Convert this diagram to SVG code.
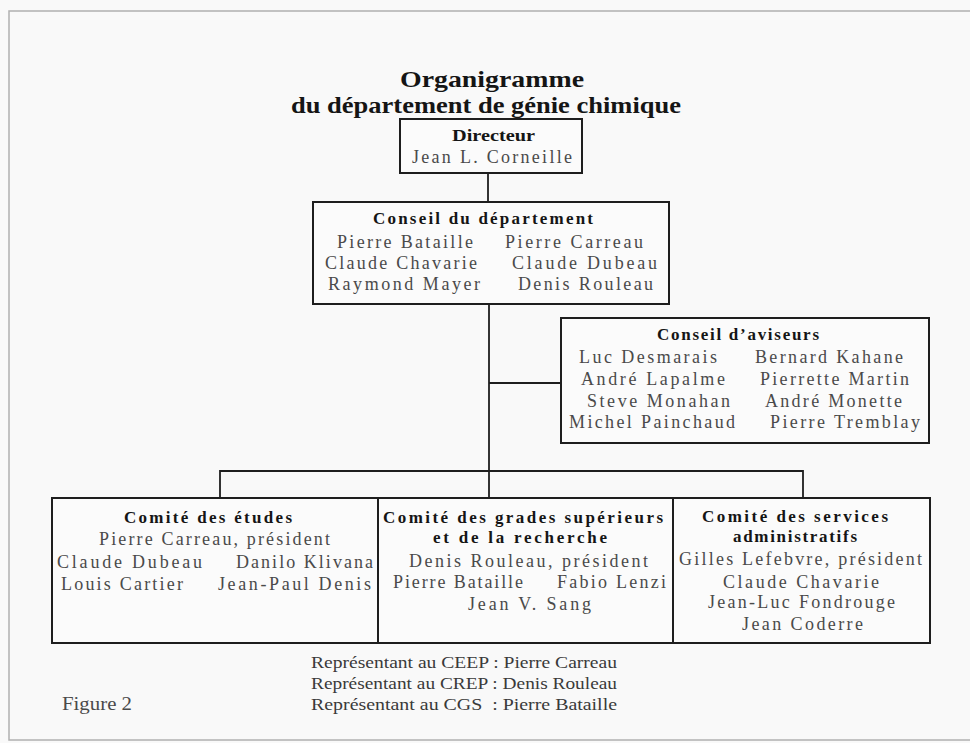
<svg xmlns="http://www.w3.org/2000/svg" width="970" height="743" viewBox="0 0 970 743">
<style>
.bg{fill:#f9f9f9}
.frame{fill:none;stroke:#b0b0b0;stroke-width:1.5}
.box{fill:#fbfbfb;stroke:#1e1e1e;stroke-width:2}
.conn{fill:none;stroke:#1e1e1e;stroke-width:1.8}
.t{font-family:"Liberation Serif","Times New Roman",serif;font-weight:bold;font-size:17px;fill:#151515}
.ttl{font-family:"Liberation Serif","Times New Roman",serif;font-weight:bold;font-size:24px;fill:#151515;text-anchor:middle}
.n{font-family:"Liberation Serif","Times New Roman",serif;font-size:18px;fill:#4a4a4a}
.f{font-family:"Liberation Serif","Times New Roman",serif;font-size:17px;fill:#3a3a3a}
</style>
<rect class="bg" x="0" y="0" width="970" height="743"/>
<rect class="frame" x="9" y="11" width="990" height="729"/>
<g id="title">
<text class="ttl" x="492" y="87" textLength="184" lengthAdjust="spacingAndGlyphs">Organigramme</text>
<text class="ttl" x="486" y="113" textLength="390" lengthAdjust="spacingAndGlyphs">du département de génie chimique</text>
</g>
<g id="connectors">
<line class="conn" x1="488" y1="173" x2="488" y2="202"/>
<line class="conn" x1="489" y1="304" x2="489" y2="498"/>
<line class="conn" x1="489" y1="383" x2="561" y2="383"/>
<polyline class="conn" points="220,499 220,471 803,471 803,498"/>
</g>
<g id="directeur">
<rect class="box" x="400" y="119" width="182" height="54"/>
<text class="t" x="452" y="141" textLength="83" lengthAdjust="spacingAndGlyphs">Directeur</text>
<text class="n" x="412" y="163" textLength="160" lengthAdjust="spacing">Jean L. Corneille</text>
</g>
<g id="conseil-departement">
<rect class="box" x="313" y="202" width="356" height="102"/>
<text class="t" x="373" y="224" textLength="220" lengthAdjust="spacing">Conseil du département</text>
<text class="n" x="337" y="248" textLength="136" lengthAdjust="spacing">Pierre Bataille</text>
<text class="n" x="505" y="248" textLength="138" lengthAdjust="spacing">Pierre Carreau</text>
<text class="n" x="325" y="269" textLength="152" lengthAdjust="spacing">Claude Chavarie</text>
<text class="n" x="512" y="269" textLength="145" lengthAdjust="spacing">Claude Dubeau</text>
<text class="n" x="328" y="290" textLength="152" lengthAdjust="spacing">Raymond Mayer</text>
<text class="n" x="518" y="290" textLength="135" lengthAdjust="spacing">Denis Rouleau</text>
</g>
<g id="conseil-aviseurs">
<rect class="box" x="561" y="318" width="368" height="125"/>
<text class="t" x="657" y="340" textLength="162" lengthAdjust="spacing">Conseil d’aviseurs</text>
<text class="n" x="579" y="363" textLength="138" lengthAdjust="spacing">Luc Desmarais</text>
<text class="n" x="755" y="363" textLength="148" lengthAdjust="spacing">Bernard Kahane</text>
<text class="n" x="581" y="385" textLength="144" lengthAdjust="spacing">André Lapalme</text>
<text class="n" x="760" y="385" textLength="149" lengthAdjust="spacing">Pierrette Martin</text>
<text class="n" x="587" y="407" textLength="143" lengthAdjust="spacing">Steve Monahan</text>
<text class="n" x="765" y="407" textLength="137" lengthAdjust="spacing">André Monette</text>
<text class="n" x="569" y="428" textLength="166" lengthAdjust="spacing">Michel Painchaud</text>
<text class="n" x="770" y="428" textLength="150" lengthAdjust="spacing">Pierre Tremblay</text>
</g>
<g id="comite-etudes">
<rect class="box" x="52" y="498" width="326" height="145"/>
<text class="t" x="124" y="523" textLength="168" lengthAdjust="spacing">Comité des études</text>
<text class="n" x="99" y="545" textLength="231" lengthAdjust="spacing">Pierre Carreau, président</text>
<text class="n" x="57" y="568" textLength="145" lengthAdjust="spacing">Claude Dubeau</text>
<text class="n" x="236" y="568" textLength="137" lengthAdjust="spacing">Danilo Klivana</text>
<text class="n" x="61" y="590" textLength="122" lengthAdjust="spacing">Louis Cartier</text>
<text class="n" x="218" y="590" textLength="153" lengthAdjust="spacing">Jean-Paul Denis</text>
</g>
<g id="comite-grades">
<rect class="box" x="378" y="498" width="295" height="145"/>
<text class="t" x="383" y="523" textLength="280" lengthAdjust="spacing">Comité des grades supérieurs</text>
<text class="t" x="433" y="543" textLength="174" lengthAdjust="spacing">et de la recherche</text>
<text class="n" x="409" y="567" textLength="239" lengthAdjust="spacing">Denis Rouleau, président</text>
<text class="n" x="393" y="588" textLength="130" lengthAdjust="spacing">Pierre Bataille</text>
<text class="n" x="557" y="588" textLength="109" lengthAdjust="spacing">Fabio Lenzi</text>
<text class="n" x="468" y="610" textLength="123" lengthAdjust="spacing">Jean V. Sang</text>
</g>
<g id="comite-services">
<rect class="box" x="673" y="498" width="257" height="145"/>
<text class="t" x="702" y="522" textLength="186" lengthAdjust="spacing">Comité des services</text>
<text class="t" x="733" y="542" textLength="124" lengthAdjust="spacing">administratifs</text>
<text class="n" x="679" y="565" textLength="243" lengthAdjust="spacing">Gilles Lefebvre, président</text>
<text class="n" x="723" y="588" textLength="156" lengthAdjust="spacing">Claude Chavarie</text>
<text class="n" x="708" y="608" textLength="187" lengthAdjust="spacing">Jean-Luc Fondrouge</text>
<text class="n" x="742" y="630" textLength="121" lengthAdjust="spacing">Jean Coderre</text>
</g>
<g id="notes">
<text class="f" x="311" y="668" textLength="306" lengthAdjust="spacingAndGlyphs">Représentant au CEEP : Pierre Carreau</text>
<text class="f" x="311" y="689" textLength="306" lengthAdjust="spacingAndGlyphs">Représentant au CREP : Denis Rouleau</text>
<text class="f" x="311" y="710" textLength="306" lengthAdjust="spacingAndGlyphs">Représentant au CGS&#160;&#160;: Pierre Bataille</text>
<text class="n" x="62" y="710" font-size="20" textLength="70" lengthAdjust="spacingAndGlyphs">Figure 2</text>
</g>
</svg>
